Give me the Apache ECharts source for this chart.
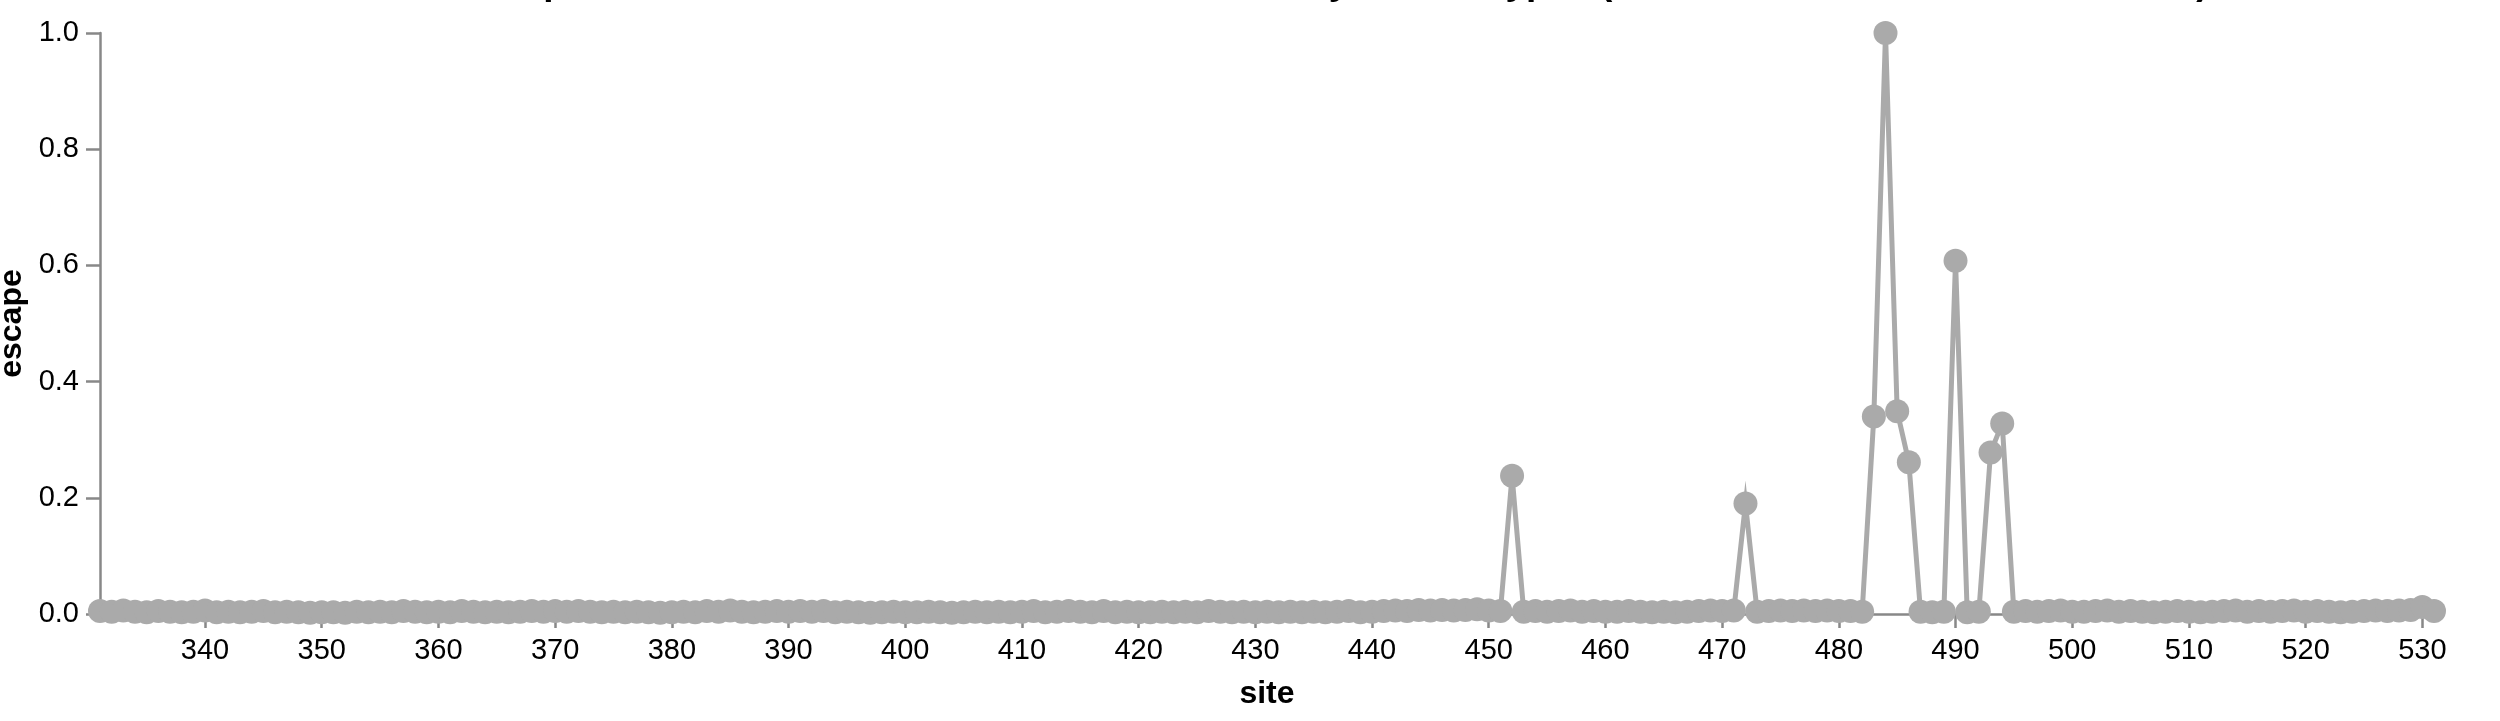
<!DOCTYPE html>
<html>
<head>
<meta charset="utf-8">
<script src="https://cdn.jsdelivr.net/npm/echarts@6/dist/echarts.min.js"></script>
<style>
html,body{margin:0;padding:0;background:#fff;}
#chart{width:2500px;height:721px;}
</style>
</head>
<body>
<div id="chart"></div>
<script>
const titleText = "Mean escape at each site from all selected antibodies by mutant types (mean across all of the antibodies)";
const xTicks = [340,350,360,370,380,390,400,410,420,430,440,450,460,470,480,490,500,510,520,530];
const yTicks = [0,0.2,0.4,0.6,0.8,1.0];
const sites = [
331,332,333,334,335,336,337,338,339,340,
341,342,343,344,345,346,347,348,349,350,
351,352,353,354,355,356,357,358,359,360,
361,362,363,364,365,366,367,368,369,370,
371,372,373,374,375,376,377,378,379,380,
381,382,383,384,385,386,387,388,389,390,
391,392,393,394,395,396,397,398,399,400,
401,402,403,404,405,406,407,408,409,410,
411,412,413,414,415,416,417,418,419,420,
421,422,423,424,425,426,427,428,429,430,
431,432,433,434,435,436,437,438,439,440,
441,442,443,444,445,446,447,448,449,450,
451,452,453,454,455,456,457,458,459,460,
461,462,463,464,465,466,467,468,469,470,
471,472,473,474,475,476,477,478,479,480,
481,482,483,484,485,486,487,488,489,490,
491,492,493,494,495,496,497,498,499,500,
501,502,503,504,505,506,507,508,509,510,
511,512,513,514,515,516,517,518,519,520,
521,522,523,524,525,526,527,528,529,530,
531];
const escape = [
0.005,0.004,0.006,0.004,0.003,0.005,0.004,0.003,0.004,0.006,
0.003,0.004,0.003,0.004,0.005,0.003,0.004,0.003,0.002,0.003,
0.003,0.002,0.004,0.003,0.004,0.003,0.005,0.004,0.003,0.004,
0.003,0.005,0.004,0.003,0.004,0.003,0.004,0.005,0.004,0.005,
0.004,0.005,0.004,0.003,0.004,0.003,0.004,0.003,0.002,0.003,
0.004,0.003,0.005,0.004,0.006,0.004,0.003,0.004,0.005,0.004,
0.005,0.004,0.005,0.003,0.004,0.003,0.002,0.003,0.004,0.003,
0.003,0.004,0.003,0.002,0.003,0.004,0.003,0.004,0.003,0.004,
0.005,0.003,0.004,0.005,0.004,0.003,0.005,0.003,0.004,0.003,
0.003,0.004,0.003,0.004,0.003,0.005,0.004,0.003,0.004,0.003,
0.004,0.003,0.004,0.003,0.004,0.003,0.004,0.005,0.003,0.004,
0.005,0.006,0.005,0.007,0.006,0.007,0.006,0.007,0.008,0.006,
0.005,0.238,0.004,0.005,0.004,0.005,0.006,0.004,0.005,0.004,
0.004,0.005,0.004,0.003,0.004,0.003,0.004,0.005,0.006,0.005,
0.006,0.190,0.004,0.005,0.006,0.005,0.006,0.005,0.006,0.005,
0.005,0.004,0.340,1.000,0.349,0.261,0.004,0.003,0.004,0.608,
0.003,0.004,0.278,0.328,0.004,0.005,0.004,0.005,0.006,0.004,
0.004,0.005,0.006,0.004,0.005,0.004,0.003,0.004,0.005,0.004,
0.003,0.004,0.005,0.006,0.004,0.005,0.004,0.005,0.006,0.004,
0.005,0.004,0.003,0.004,0.005,0.006,0.005,0.006,0.007,0.012,
0.005];

const FONT = "'Liberation Sans', Arial, Helvetica, sans-serif";
const GREY = '#aaaaaa';
const AXIS = '#888888';

const chart = echarts.init(document.getElementById('chart'), null, {renderer: 'canvas'});
chart.setOption({
  animation: false,
  backgroundColor: '#ffffff',
  graphic: [{
    type: 'text',
    x: 356, y: -16,
    style: {
      text: titleText,
      font: 'bold 37px ' + FONT,
      fill: '#000',
      align: 'left',
      verticalAlign: 'middle'
    }
  }],
  grid: {left: 100, right: 66, top: 33, bottom: 107, containLabel: false, outerBoundsMode: 'none'},
  xAxis: {
    type: 'value', min: 331, max: 531,
    name: 'site', nameLocation: 'middle', nameGap: 64,
    nameTextStyle: {fontFamily: FONT, fontWeight: 'bold', fontSize: 32, color: '#000'},
    axisLine: {show: true, lineStyle: {color: AXIS, width: 2.5}},
    axisTick: {show: true, length: 14, lineStyle: {color: AXIS, width: 2.5}, customValues: xTicks},
    axisLabel: {fontFamily: FONT, fontSize: 29, color: '#000', margin: 22, customValues: xTicks},
    splitLine: {show: false}
  },
  yAxis: {
    type: 'value', min: 0, max: 1, interval: 0.2,
    name: 'escape', nameLocation: 'middle', nameGap: 69, nameRotate: 90,
    nameTextStyle: {fontFamily: FONT, fontWeight: 'bold', fontSize: 32, color: '#000'},
    axisLine: {show: true, lineStyle: {color: AXIS, width: 2.5}},
    axisTick: {show: true, length: 14, lineStyle: {color: AXIS, width: 2.5}},
    axisLabel: {fontFamily: FONT, fontSize: 29, color: '#000', margin: 21,
      formatter: v => v.toFixed(1)},
    splitLine: {show: false}
  },
  series: [{
    type: 'line',
    data: sites.map((s, i) => [s, escape[i]]),
    symbol: 'circle', symbolSize: 24, showSymbol: true,
    itemStyle: {color: GREY, opacity: 1},
    lineStyle: {color: GREY, width: 5, join: 'miter', miterLimit: 10},
    clip: false,
    z: 3
  }]
});
</script>
</body>
</html>
